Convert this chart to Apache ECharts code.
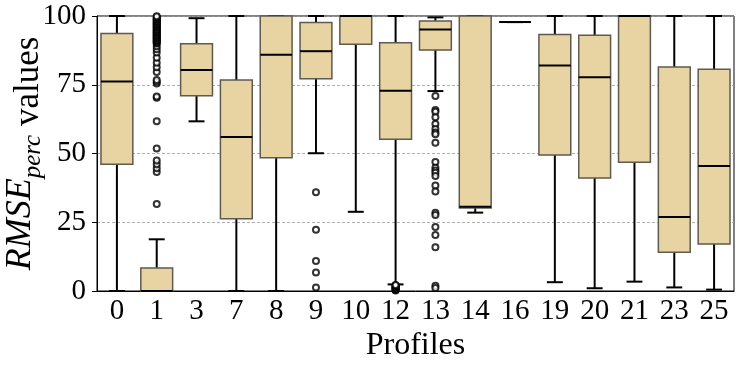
<!DOCTYPE html>
<html>
    <head>
        <meta charset="utf-8">
        <script src="https://cdn.jsdelivr.net/npm/echarts@6/dist/echarts.min.js"></script>
    </head>
    <body>
        <style>
            html, body, #main {
                width: 100%;
                height: 100%;
                margin: 0;
            }
        </style>
        <div id="main"></div>
        <script>
            var profiles = ['0', '1', '3', '7', '8', '9', '10', '12', '13', '14', '16', '19', '20', '21', '23', '25'];
            var whiskerLow  = [0,    0,   61.7, 0,    0,    50.1, 28.8, 2.4,  72.7, 28.5, 97.8, 3.2,  1.0,  3.4,  1.3,  0.5];
            var q1          = [46.1, 0,   71.0, 26.3, 48.5, 77.2, 89.7, 55.2, 87.6, 30.2, 97.8, 49.5, 41.1, 46.8, 14.1, 17.1];
            var median      = [76.2, 0,   80.4, 56.0, 85.9, 87.2, 100,  72.8, 95.1, 30.6, 97.8, 82.0, 77.7, 100,  26.9, 45.5];
            var q3          = [93.6, 8.4, 89.9, 76.7, 100,  97.6, 100,  90.3, 98.2, 100,  97.8, 93.3, 93.0, 100,  81.5, 80.6];
            var whiskerHigh = [100, 18.8, 99.2, 100,  100,  100,  100,  100,  99.5, 100,  97.8, 100,  100,  100,  100,  100];

            // outliers, per profile
            var fliers1 = [31.6, 43.3, 44.6, 46.1, 47.5, 51.8, 61.7, 70.3, 70.7, 75.5, 76.1, 76.7, 79.6, 81.4,
                83.0, 84.8, 86.7, 87.9, 89.0, 90.0, 90.3, 90.6, 90.9, 91.2, 91.5, 91.8, 92.1, 92.4, 92.7, 93.0,
                93.3, 93.6, 93.9, 94.2, 94.5, 94.8, 95.1, 95.4, 95.7, 96.0, 96.3, 96.6, 96.9, 97.2, 97.5, 97.8,
                98.1, 98.4, 98.7, 99.0, 99.3, 99.6, 99.9];
            var fliers9 = [35.9, 22.3, 10.9, 6.7, 1.3];
            var fliers12 = [0.2, 0.4, 0.6, 0.8, 1.0, 1.2, 1.4, 1.6, 1.8, 2.0, 2.2];
            var fliers13 = [70.9, 65.8, 65.2, 63.2, 60.7, 58.9, 57.6, 57.0, 53.9, 46.9, 44.8, 43.8, 43.0, 41.8,
                38.4, 36.2, 28.5, 27.6, 23.3, 20.4, 15.9, 1.9, 1.1];

            var chart = echarts.init(document.getElementById('main'));
            var serif = '"Liberation Serif", "DejaVu Serif", serif';

            var boxData = profiles.map(function (p, i) {
                return [i, whiskerLow[i], q1[i], median[i], q3[i], whiskerHigh[i]];
            });

            var flierData = [];
            [['1', fliers1], ['9', fliers9], ['12', fliers12], ['13', fliers13]].forEach(function (f) {
                f[1].forEach(function (v) {
                    flierData.push([profiles.indexOf(f[0]), v]);
                });
            });

            function renderBox(params, api) {
                var x = api.value(0);
                var bw = api.size([1, 0])[0] * 0.8;
                var cw = bw * 0.5;
                var pLow = api.coord([x, api.value(1)]);
                var pQ1 = api.coord([x, api.value(2)]);
                var pMed = api.coord([x, api.value(3)]);
                var pQ3 = api.coord([x, api.value(4)]);
                var pHigh = api.coord([x, api.value(5)]);
                var cx = pLow[0];
                var line = {stroke: '#000', lineWidth: 2};
                return {
                    type: 'group',
                    children: [
                        {type: 'line', shape: {x1: cx, y1: pQ1[1], x2: cx, y2: pLow[1]}, style: line},
                        {type: 'line', shape: {x1: cx, y1: pQ3[1], x2: cx, y2: pHigh[1]}, style: line},
                        {type: 'line', shape: {x1: cx - cw / 2, y1: pLow[1], x2: cx + cw / 2, y2: pLow[1]}, style: line},
                        {type: 'line', shape: {x1: cx - cw / 2, y1: pHigh[1], x2: cx + cw / 2, y2: pHigh[1]}, style: line},
                        {
                            type: 'rect',
                            shape: {x: cx - bw / 2, y: pQ3[1], width: bw, height: pQ1[1] - pQ3[1]},
                            style: {fill: '#e8d4a2', stroke: '#5e5a50', lineWidth: 1.5}
                        },
                        {type: 'line', shape: {x1: cx - bw / 2, y1: pMed[1], x2: cx + bw / 2, y2: pMed[1]}, style: line}
                    ]
                };
            }

            chart.setOption({
                animation: false,
                grid: {
                    left: 97,
                    right: 7,
                    top: 16,
                    bottom: 77,
                    outerBoundsMode: 'none',
                    show: true,
                    borderColor: '#000',
                    borderWidth: 1
                },
                xAxis: {
                    type: 'category',
                    data: profiles,
                    name: 'Profiles',
                    nameLocation: 'middle',
                    nameGap: 39,
                    nameMoveOverlap: false,
                    nameTextStyle: {fontFamily: serif, fontSize: 32, color: '#000'},
                    axisLine: {lineStyle: {color: '#000', width: 1}},
                    axisTick: {alignWithLabel: true, length: 5, lineStyle: {color: '#000'}},
                    axisLabel: {fontFamily: serif, fontSize: 29, color: '#000', margin: 6, interval: 0}
                },
                yAxis: {
                    type: 'value',
                    min: 0,
                    max: 100,
                    interval: 25,
                    name: '{i|RMSE}{s|perc}{n| values}',
                    nameLocation: 'middle',
                    nameGap: 51,
                    nameMoveOverlap: false,
                    nameTextStyle: {
                        rich: {
                            i: {fontFamily: serif, fontStyle: 'italic', fontSize: 36, color: '#000', lineHeight: 48,
                                verticalAlign: 'bottom', padding: [0, 0, 7, 0]},
                            s: {fontFamily: serif, fontStyle: 'italic', fontSize: 25, color: '#000', lineHeight: 48,
                                verticalAlign: 'bottom'},
                            n: {fontFamily: serif, fontSize: 35, color: '#000', lineHeight: 48,
                                verticalAlign: 'bottom'}
                        }
                    },
                    axisLine: {show: true, lineStyle: {color: '#000', width: 1}},
                    axisTick: {show: true, length: 5, lineStyle: {color: '#000'}},
                    axisLabel: {fontFamily: serif, fontSize: 29, color: '#000', margin: 11},
                    splitLine: {lineStyle: {color: '#999', type: [3, 2], width: 0.8}}
                },
                series: [
                    {
                        type: 'custom',
                        renderItem: renderBox,
                        data: boxData,
                        encode: {x: 0, y: [1, 2, 3, 4, 5]},
                        z: 2
                    },
                    {
                        type: 'scatter',
                        data: flierData,
                        symbol: 'emptyCircle',
                        symbolSize: 6,
                        itemStyle: {color: '#000', borderColor: '#000', borderWidth: 1},
                        z: 3
                    }
                ]
            });
        </script>
    </body>
</html>
